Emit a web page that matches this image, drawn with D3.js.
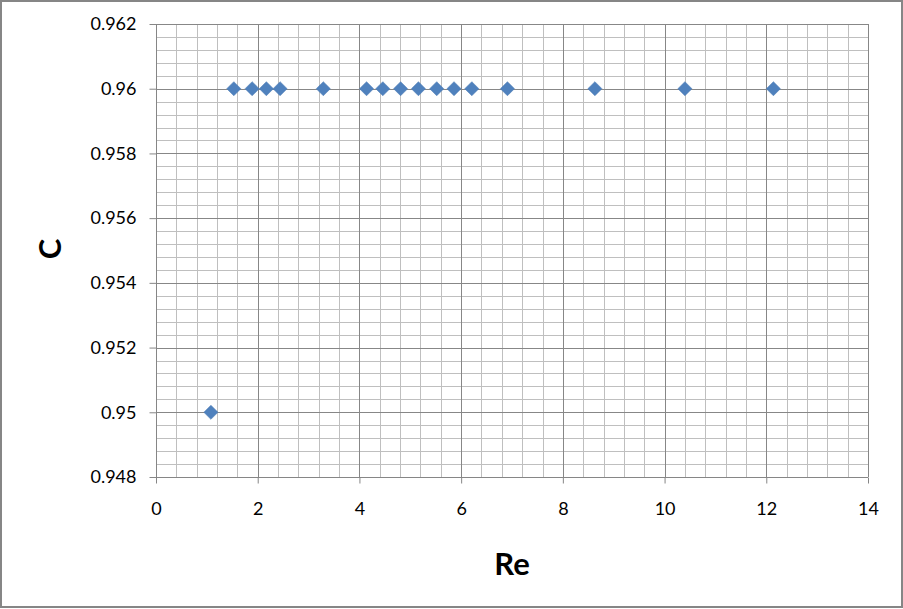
<!DOCTYPE html>
<html>
<head>
<meta charset="utf-8">
<script src="https://cdn.jsdelivr.net/npm/d3@7"></script>
<style>
  body { margin: 0; background: #fff; }
  text { font-family: Lato, "Open Sans", sans-serif; }
</style>
</head>
<body>
<div id="chart"></div>
<script>
var width = 903,
    height = 609;

// Re values and C values
var reValues = [1.08, 1.53, 1.89, 2.17, 2.44, 3.29, 4.14, 4.46, 4.81, 5.16, 5.52, 5.86, 6.21, 6.91, 8.63, 10.40, 12.14];
var cValues  = [0.950, 0.960, 0.960, 0.960, 0.960, 0.960, 0.960, 0.960, 0.960, 0.960, 0.960, 0.960, 0.960, 0.960, 0.960, 0.960, 0.960];

var xTicks = [0, 2, 4, 6, 8, 10, 12, 14];
var yTicks = [0.948, 0.95, 0.952, 0.954, 0.956, 0.958, 0.96, 0.962];

var plotLeft = 156, plotRight = 868, plotTop = 24, plotBottom = 477;

var x = d3.scaleLinear().domain([0, 14]).range([plotLeft, plotRight]);
var y = d3.scaleLinear().domain([0.948, 0.962]).range([plotBottom, plotTop]);

var svg = d3.select("#chart").append("svg")
    .attr("width", width)
    .attr("height", height);

// outer border
svg.append("rect")
    .attr("x", 1).attr("y", 1)
    .attr("width", width - 2).attr("height", height - 3)
    .attr("fill", "#fff")
    .attr("stroke", "#868686")
    .attr("stroke-width", 2);

// minor grid
var xMinor = d3.range(0, 36).map(function(i) { return i * 0.4; });
var yMinor = d3.range(0, 36).map(function(i) { return 0.948 + i * 0.0004; });

svg.append("g").selectAll("line").data(xMinor).enter().append("line")
    .attr("x1", function(d) { return Math.round(x(d)) + 0.5; })
    .attr("x2", function(d) { return Math.round(x(d)) + 0.5; })
    .attr("y1", plotTop).attr("y2", plotBottom)
    .attr("stroke", "#bfbfbf");

svg.append("g").selectAll("line").data(yMinor).enter().append("line")
    .attr("y1", function(d) { return Math.round(y(d)) + 0.5; })
    .attr("y2", function(d) { return Math.round(y(d)) + 0.5; })
    .attr("x1", plotLeft).attr("x2", plotRight)
    .attr("stroke", "#bfbfbf");

// major grid
svg.append("g").selectAll("line").data(xTicks).enter().append("line")
    .attr("x1", function(d) { return Math.round(x(d)) + 0.5; })
    .attr("x2", function(d) { return Math.round(x(d)) + 0.5; })
    .attr("y1", plotTop).attr("y2", plotBottom)
    .attr("stroke", "#878787");

svg.append("g").selectAll("line").data(yTicks).enter().append("line")
    .attr("y1", function(d) { return Math.round(y(d)) + 0.5; })
    .attr("y2", function(d) { return Math.round(y(d)) + 0.5; })
    .attr("x1", plotLeft).attr("x2", plotRight)
    .attr("stroke", "#878787");

// axes
var xAxis = d3.axisBottom(x).tickValues(xTicks).tickSize(6).tickPadding(19)
    .tickFormat(d3.format("d"));
var yAxis = d3.axisLeft(y).tickValues(yTicks).tickSize(7).tickPadding(13)
    .tickFormat(function(d) { return +d.toFixed(3); });

var gx = svg.append("g")
    .attr("transform", "translate(0," + (plotBottom + 0.5) + ")")
    .call(xAxis);
var gy = svg.append("g")
    .attr("transform", "translate(" + (plotLeft + 0.5) + ",0)")
    .call(yAxis);

[gx, gy].forEach(function(g) {
    g.attr("font-size", 18).attr("font-family", "Lato, 'Open Sans', sans-serif");
    g.selectAll("path,line").attr("stroke", "#868686");
    g.selectAll("text").attr("fill", "#000");
});
gx.select(".domain").attr("d", "M" + plotLeft + ",0H" + plotRight);
gy.select(".domain").attr("d", "M0," + plotTop + "V" + plotBottom);

// points
svg.append("g").selectAll("path").data(reValues).enter().append("path")
    .attr("transform", function(d, i) {
        return "translate(" + x(d) + "," + y(cValues[i]) + ") rotate(45)";
    })
    .attr("d", d3.symbol().type(d3.symbolSquare).size(100))
    .attr("fill", "#4f81bd")
    .attr("stroke", "#4a7ab3")
    .attr("stroke-width", 0.5);

// axis titles
svg.append("text")
    .attr("x", 512).attr("y", 575)
    .attr("text-anchor", "middle")
    .attr("font-size", 31)
    .attr("font-weight", "bold")
    .text("Re");

svg.append("text")
    .attr("transform", "translate(61,249) rotate(-90)")
    .attr("text-anchor", "middle")
    .attr("font-size", 31)
    .attr("font-weight", "bold")
    .text("C");
</script>
</body>
</html>
